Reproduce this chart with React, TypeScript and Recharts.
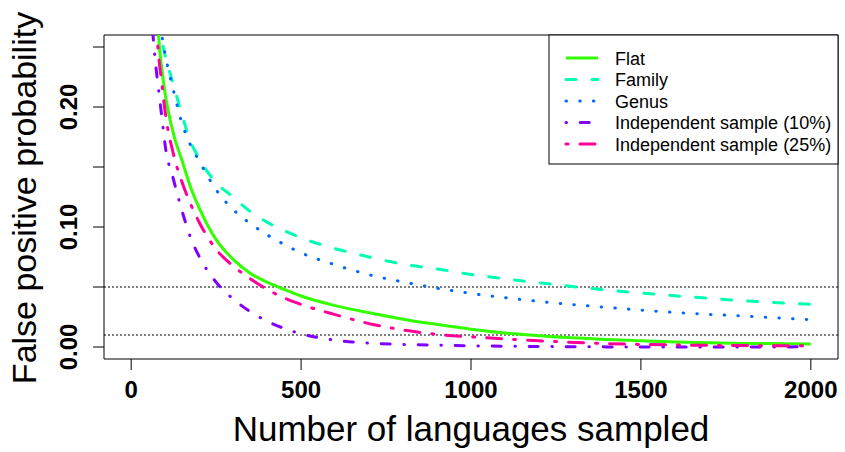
import React from "react";
import { LineChart, Line, XAxis, YAxis, ReferenceLine, ReferenceArea } from "recharts";

// sample sizes (x) and false positive probabilities per sampling scheme
const sampleSizes = [60, 70, 80, 90, 100, 125, 150, 175, 200, 250, 300, 350, 400, 450, 500, 600, 700, 800, 900, 1000, 1200, 1400, 1600, 1800, 2000];
const flat = [null, 0.33, 0.262, 0.232, 0.211, 0.177, 0.155, 0.133, 0.116, 0.0895, 0.073, 0.0615, 0.054, 0.048, 0.0425, 0.0345, 0.0285, 0.0232, 0.0188, 0.0148, 0.0093, 0.0063, 0.0042, 0.003, 0.0025];
const family = [null, null, 0.272, 0.256, 0.243, 0.218, 0.193, 0.171, 0.157, 0.137, 0.125, 0.113, 0.104, 0.097, 0.091, 0.082, 0.075, 0.069, 0.065, 0.0605, 0.0535, 0.0475, 0.0427, 0.0386, 0.0355];
const genus = [null, null, 0.28, 0.26, 0.244, 0.213, 0.186, 0.168, 0.155, 0.131, 0.1145, 0.103, 0.0935, 0.0855, 0.0785, 0.0685, 0.0602, 0.0542, 0.049, 0.0447, 0.038, 0.033, 0.0288, 0.0258, 0.0228];
const indep10 = [0.275, 0.241, 0.216, 0.192, 0.168, 0.139, 0.113, 0.091, 0.0755, 0.054, 0.04, 0.0295, 0.0215, 0.0155, 0.011, 0.0057, 0.0032, 0.0022, 0.0015, 0.001, 0.0004, 0.0001, 0, 0, 0.0002];
const indep25 = [null, 0.285, 0.245, 0.22, 0.196, 0.16, 0.137, 0.119, 0.104, 0.0814, 0.0675, 0.057, 0.048, 0.041, 0.0355, 0.027, 0.0195, 0.0142, 0.0105, 0.0085, 0.0052, 0.0028, 0.0017, 0.0012, 0.001];

const xTicks = [0, 500, 1000, 1500, 2000];
const yTicks = [0, 0.05, 0.1, 0.15, 0.2, 0.25];
const yLabelled = [0, 0.1, 0.2];
const thresholds = [0.05, 0.01];

const series = [
  { key: "flat", name: "Flat", color: "#33FF00", dash: undefined },
  { key: "family", name: "Family", color: "#00FFB3", dash: "10 16" },
  { key: "genus", name: "Genus", color: "#0066FF", dash: "0.5 13.2" },
  { key: "indep10", name: "Independent sample (10%)", color: "#7F00FF", dash: "0.5 13.75 9 13.75" },
  { key: "indep25", name: "Independent sample (25%)", color: "#FF0099", dash: "2 12 15 12" },
];

const data = sampleSizes.map((n, i) => ({
  n,
  flat: flat[i],
  family: family[i],
  genus: genus[i],
  indep10: indep10[i],
  indep25: indep25[i],
}));

const FONT = "'Liberation Sans', Arial, Helvetica, sans-serif";

function XTick({ x, payload }: any) {
  return (
    <text x={x} y={398} textAnchor="middle" fontFamily={FONT} fontWeight="bold" fontSize={24} fill="#000">
      {payload.value}
    </text>
  );
}

function YTick({ y, payload }: any) {
  if (!yLabelled.some((v) => Math.abs(v - payload.value) < 1e-9)) return null;
  return (
    <text
      x={77}
      y={y}
      transform={`rotate(-90, 77, ${y})`}
      textAnchor="middle"
      fontFamily={FONT}
      fontWeight="bold"
      fontSize={24}
      fill="#000"
    >
      {payload.value.toFixed(2)}
    </text>
  );
}

function YTitle() {
  return (
    <text
      x={36}
      y={198}
      transform="rotate(-90, 36, 198)"
      textAnchor="middle"
      fontFamily={FONT}
      fontSize={34}
      fill="#000"
    >
      False positive probability
    </text>
  );
}

function LegendBox() {
  return (
    <svg width={291} height={131} style={{ position: "absolute", left: 548, top: 34 }}>
      <rect x={1} y={1} width={289} height={129} fill="#fff" stroke="#000" strokeWidth={1} />
      {series.map((s, i) => {
        const cy = 24 + i * 21.5;
        return (
          <g key={s.key}>
            <line
              x1={18}
              x2={50}
              y1={cy}
              y2={cy}
              stroke={s.color}
              strokeWidth={3}
              strokeDasharray={s.dash}
              strokeLinecap={s.dash ? "round" : "butt"}
            />
            <text x={67} y={cy + 6.5} fontFamily={FONT} fontSize={18} fill="#000">
              {s.name}
            </text>
          </g>
        );
      })}
    </svg>
  );
}

export default function App() {
  return (
    <div style={{ position: "fixed", left: 0, top: 0, width: 845, height: 452, background: "#fff" }}>
      <LineChart width={845} height={452} data={data} margin={{ top: 35, right: 7, bottom: 0, left: 0 }}>
        <XAxis
          dataKey="n"
          type="number"
          domain={[-80, 2080]}
          ticks={xTicks}
          allowDataOverflow
          height={93}
          axisLine={false}
          tickSize={11}
          tickLine={{ stroke: "#000", strokeWidth: 1 }}
          tick={<XTick />}
          label={{
            value: "Number of languages sampled",
            position: "insideBottom",
            offset: 11,
            fontFamily: FONT,
            fontSize: 35,
            fill: "#000",
          }}
        />
        <YAxis
          type="number"
          domain={[-0.01, 0.26]}
          ticks={yTicks}
          allowDataOverflow
          width={104}
          axisLine={false}
          tickSize={11}
          tickLine={{ stroke: "#000", strokeWidth: 1 }}
          tick={<YTick />}
          label={<YTitle />}
        />
        <ReferenceArea x1={-80} x2={2080} y1={-0.01} y2={0.26} fill="none" stroke="#000" strokeWidth={1} />
        {thresholds.map((t) => (
          <ReferenceLine key={t} y={t} stroke="#000" strokeWidth={1} strokeDasharray="2 2" />
        ))}
        {series.map((s) => (
          <Line
            key={s.key}
            dataKey={s.key}
            name={s.name}
            type="monotone"
            stroke={s.color}
            strokeWidth={3}
            strokeDasharray={s.dash}
            strokeLinecap={s.dash ? "round" : "butt"}
            dot={false}
            activeDot={false}
            isAnimationActive={false}
          />
        ))}
      </LineChart>
      <LegendBox />
    </div>
  );
}
